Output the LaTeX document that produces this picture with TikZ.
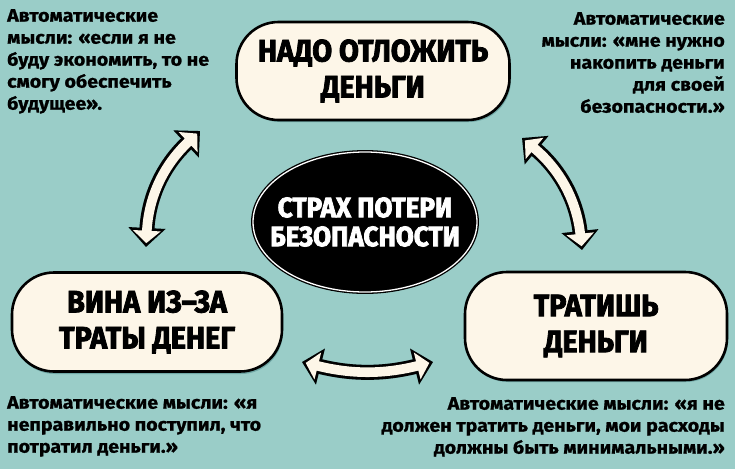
\documentclass[tikz,border=0pt]{standalone}
\usepackage{fontspec}
\setmainfont{Fira Sans}
\newfontfamily\titlefont{Fira Sans}[FakeStretch=0.93,BoldFeatures={FakeBold=2.6}]
\newfontfamily\thoughtfont{Fira Sans}[FakeStretch=1.09,BoldFeatures={FakeBold=0.9}]
\usetikzlibrary{shapes.geometric,arrows.meta}
\definecolor{teal bg}{RGB}{154,205,200}
\definecolor{teal dark}{RGB}{112,168,166}
\definecolor{cream}{RGB}{253,246,232}
\tikzset{
  bubble/.style={draw=black,line width=2.6pt,fill=cream,rounded corners=42pt,
    align=center,inner sep=0pt,font=\titlefont\bfseries\fontsize{31}{36}\selectfont},
  thought/.style={inner sep=0pt,font=\thoughtfont\bfseries\fontsize{18}{22}\selectfont},
  arrowshadow/.style={line width=15pt,teal dark,
    {Triangle[length=19pt,width=36pt]}-{Triangle[length=19pt,width=36pt]}},
  arrowout/.style={line width=15pt,black,
    {Triangle[length=19pt,width=36pt]}-{Triangle[length=19pt,width=36pt]}},
  arrowin/.style={line width=9.6pt,cream,shorten <=3.8pt,shorten >=3.8pt,
    {Triangle[length=12.5pt,width=27pt]}-{Triangle[length=12.5pt,width=27pt]}}
}
\begin{document}
\begin{tikzpicture}[x=1pt,y=-1pt]
	\useasboundingbox (0,0) rectangle (735,469);
	\fill[teal bg] (0,0) rectangle (735,469);
	% boxes
	\fill[teal dark,rounded corners=42pt] (238,24) rectangle (511,122);
	\fill[teal dark,rounded corners=42pt] (13,275) rectangle (283,374);
	\fill[teal dark,rounded corners=42pt] (466,274) rectangle (728,382);
	\node[bubble,minimum width=273pt,minimum height=98pt] (save) at (373,71) {НАДО ОТЛОЖИТЬ\\ДЕНЬГИ};
	\node[bubble,minimum width=270pt,minimum height=99pt] (guilt) at (147,322) {ВИНА ИЗ–ЗА\\ТРАТЫ ДЕНЕГ};
	\node[bubble,minimum width=262pt,minimum height=108pt] (spend) at (596,326) {ТРАТИШЬ\\ДЕНЬГИ};
	% centre
	\node[ellipse,fill=black,draw=black,double=white,double distance=1.3pt,line width=1.3pt,
	  minimum width=224pt,minimum height=140pt,inner sep=0pt] (fear) at (365,222) {};
	\node[align=center,text=white,inner sep=0pt,
	  font=\titlefont\bfseries\fontsize{28}{29}\selectfont] (feartext) at (fear.center) {СТРАХ ПОТЕРИ\\БЕЗОПАСНОСТИ};
	% arrows
	\coordinate (guiltup) at (146,247);
	\coordinate (savedown) at (200,131);
	\coordinate (saveright) at (522,138);
	\coordinate (spendup) at (582,250);
	\coordinate (guiltright) at (302,362);
	\coordinate (spendleft) at (433,362);
	\draw[arrowshadow,xshift=-2pt,yshift=2pt] (guiltup) to[bend left=22] (savedown);
	\draw[arrowout] (guiltup) to[bend left=22] (savedown);
	\draw[arrowin] (guiltup) to[bend left=22] (savedown);
	\draw[arrowshadow,xshift=2pt,yshift=2pt] (saveright) to[bend left=22] (spendup);
	\draw[arrowout] (saveright) to[bend left=22] (spendup);
	\draw[arrowin] (saveright) to[bend left=22] (spendup);
	\draw[arrowshadow,yshift=-3pt] (guiltright) to[bend right=14] (spendleft);
	\draw[arrowout] (guiltright) to[bend right=14] (spendleft);
	\draw[arrowin] (guiltright) to[bend right=14] (spendleft);
	% thoughts
	\node[thought,anchor=north west,align=left] (savethought) at (7,9)
	  {Автоматические\\мысли: «если я не\\буду экономить, то не\\смогу обеспечить\\будущее».};
	\node[thought,anchor=north east,align=right] (spendthought) at (725,12)
	  {Автоматические\\мысли: «мне нужно\\накопить деньги\\для своей\\безопасности.»};
	\node[thought,anchor=north west,align=left] (guiltthought) at (7,396)
	  {Автоматические мысли: «я\\неправильно поступил, что\\потратил деньги.»};
	\node[thought,anchor=north east,align=right] (spendthought2) at (725,397)
	  {Автоматические мысли: «я не\\должен тратить деньги, мои расходы\\должны быть минимальными.»};
\end{tikzpicture}
\end{document}
